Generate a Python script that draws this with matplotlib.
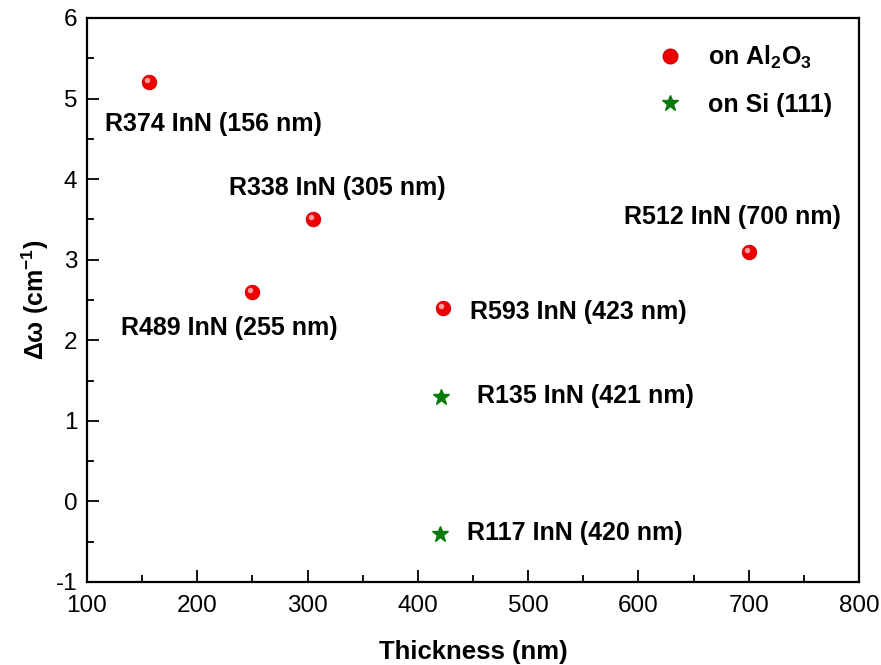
import matplotlib
matplotlib.use("Agg")
import matplotlib.pyplot as plt
from matplotlib.lines import Line2D
from matplotlib.ticker import MultipleLocator

plt.rcParams['font.family'] = ['Liberation Sans', 'DejaVu Sans']
plt.rcParams['mathtext.fontset'] = 'custom'
plt.rcParams['mathtext.rm'] = 'Liberation Sans'
plt.rcParams['mathtext.bf'] = 'Liberation Sans:bold'
plt.rcParams['mathtext.default'] = 'bf'
plt.rcParams['axes.unicode_minus'] = False

# образцы на сапфире
al_thick = [156, 305, 250, 423, 700]
al_dw = [5.2, 3.5, 2.6, 2.4, 3.1]
al_names = ["R374 InN (156 nm)", "R338 InN (305 nm)", "R489 InN (255 nm)",
            "R593 InN (423 nm)", "R512 InN (700 nm)"]
al_label_xy = [(116, 4.68), (229, 3.89), (131, 2.15), (447, 2.35), (587, 3.53)]

# образцы на кремнии
si_thick = [421, 420]
si_dw = [1.3, -0.4]
si_names = ["R135 InN (421 nm)", "R117 InN (420 nm)"]
si_label_xy = [(454, 1.31), (445, -0.39)]

fig = plt.figure(figsize=(8.81, 6.65), dpi=100)
ax = fig.add_axes([87/881, 1-582/665, (859-87)/881, (582-18)/665])

# красные шарики: основной круг + блик
ax.plot(al_thick, al_dw, 'o', ms=10.5, mfc='#ee0000', mec='#cc0000', mew=0.6, ls='none')
ax.plot(al_thick, al_dw, 'o', ms=4, mfc='#ff9a9a', mec='none', ls='none',
        transform=ax.transData + matplotlib.transforms.ScaledTranslation(-2/100, 2/100, fig.dpi_scale_trans))
ax.plot(si_thick, si_dw, '*', ms=12, color='#0a7a0a', ls='none')

for name, (tx, ty) in zip(al_names + si_names, al_label_xy + si_label_xy):
    ax.text(tx, ty, name, fontsize=18, fontweight='bold', ha='left', va='center')

ax.set_xlim(100, 800)
ax.set_ylim(-1, 6)
ax.xaxis.set_major_locator(MultipleLocator(100))
ax.xaxis.set_minor_locator(MultipleLocator(50))
ax.yaxis.set_major_locator(MultipleLocator(1))
ax.yaxis.set_minor_locator(MultipleLocator(0.5))
ax.tick_params(which='both', direction='in', width=1.3, labelsize=17.5, top=False, right=False)
ax.tick_params(which='major', length=8.5, pad=7)
ax.tick_params(axis='x', which='major', pad=9)
ax.tick_params(which='minor', length=5)
for s in ax.spines.values():
    s.set_linewidth(1.6)

ax.set_xlabel("Thickness (nm)", fontsize=18.5, fontweight='bold', labelpad=17)
ax.set_ylabel(r"Δω (cm$^{-1}$)", fontsize=18, fontweight='bold', labelpad=3)

handles = [Line2D([], [], marker='o', ls='none', ms=10.5, mfc='#ee0000', mec='#cc0000'),
           Line2D([], [], marker='*', ls='none', ms=12, color='#0a7a0a')]
ax.legend(handles, [r"on Al$_2$O$_3$", "on Si (111)"], frameon=False, loc='upper left',
          bbox_to_anchor=(0.71, 0.995), prop={'size': 18, 'weight': 'bold'},
          handlelength=1.0, handletextpad=1.0, labelspacing=0.9)

fig.savefig("out.png", dpi=100)
